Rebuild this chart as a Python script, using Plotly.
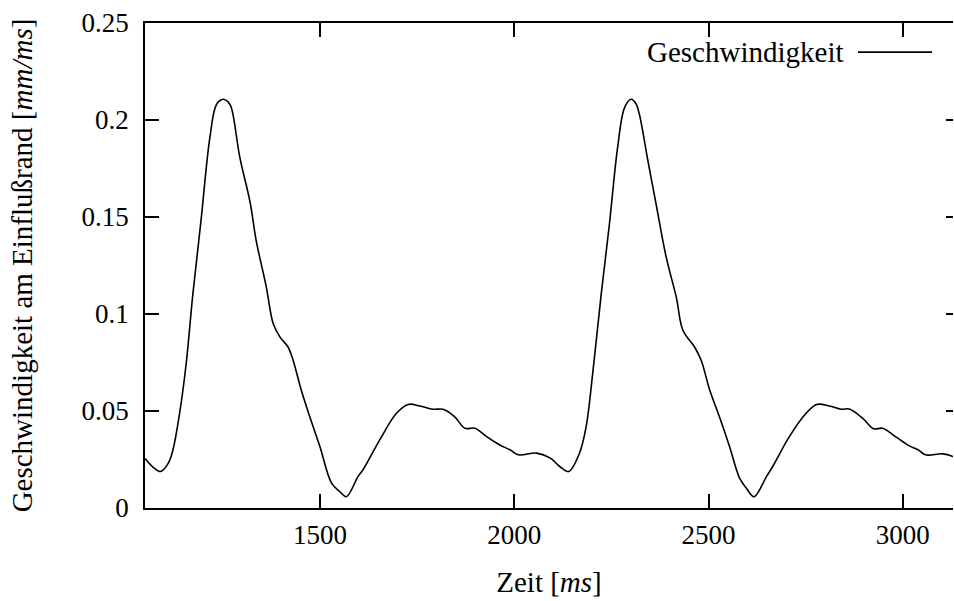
import plotly.graph_objects as go

# Zeit [ms]
zeit = [1050, 1071, 1090, 1110, 1122, 1139, 1156, 1173, 1194, 1217, 1234, 1251,
        1263, 1272, 1294, 1320, 1336, 1362, 1380, 1397, 1418, 1431, 1452, 1474, 1500,
        1530, 1551, 1568, 1598, 1611, 1654, 1697, 1727, 1757, 1791, 1817, 1847,
        1873, 1899, 1929, 1963, 1989, 2011, 2058, 2093, 2117, 2140, 2168, 2185,
        2202, 2224, 2245, 2266, 2284, 2301, 2313, 2322, 2344, 2365, 2391, 2417, 2434,
        2464, 2481, 2503, 2528, 2554, 2580, 2597, 2617, 2649, 2665, 2708, 2751,
        2778, 2811, 2841, 2862, 2897, 2925, 2948, 2983, 3017, 3039, 3058, 3103,
        3129]
# Geschwindigkeit am Einflussrand [mm/ms]
geschwindigkeit = [0.0255, 0.0210, 0.0188, 0.0231, 0.0300, 0.0488, 0.0745, 0.1100,
                   0.1480, 0.1910, 0.2080, 0.2107, 0.2095, 0.2064, 0.1807, 0.1580, 0.1380,
                   0.1140, 0.0950, 0.0882, 0.0830, 0.0762, 0.0608, 0.0470, 0.0317,
                   0.0128, 0.0085, 0.0058, 0.0162, 0.0197, 0.0351, 0.0488, 0.0534,
                   0.0526, 0.0509, 0.0509, 0.0470, 0.0411, 0.0411, 0.0368, 0.0325,
                   0.0300, 0.0274, 0.0283, 0.0257, 0.0214, 0.0188, 0.0283, 0.0419,
                   0.0694, 0.1105, 0.1464, 0.1858, 0.2064, 0.2107, 0.2085, 0.2030, 0.1790,
                   0.1567, 0.1293, 0.1087, 0.0916, 0.0830, 0.0762, 0.0608, 0.0470,
                   0.0317, 0.0154, 0.0103, 0.0058, 0.0162, 0.0214, 0.0368, 0.0488,
                   0.0534, 0.0526, 0.0509, 0.0510, 0.0462, 0.0408, 0.0411, 0.0365,
                   0.0320, 0.0300, 0.0274, 0.0279, 0.0265]

x_ticks = [1500, 2000, 2500, 3000]
y_ticks = [0, 0.05, 0.1, 0.15, 0.2, 0.25]
y_ticktext = ["0", "0.05", "0.1", "0.15", "0.2", "0.25"]
x_range = [1050, 3129]
y_range = [0, 0.25]
legend_label = "Geschwindigkeit"

FONT = "Liberation Serif"

fig = go.Figure()
fig.add_trace(go.Scatter(
    x=zeit, y=geschwindigkeit, mode="lines", name=legend_label,
    line=dict(color="black", width=1.6, shape="spline", smoothing=1.0),
    showlegend=False,
))
# empty helper trace so the mirrored right-hand tick axis gets drawn
fig.add_trace(go.Scatter(x=[], y=[], yaxis="y2", showlegend=False,
                         hoverinfo="skip"))

fig.update_layout(
    width=954, height=601, autosize=False,
    margin=dict(l=145, r=1, t=23, b=93, pad=0),
    paper_bgcolor="white", plot_bgcolor="white",
    font=dict(family=FONT, size=27, color="black"),
    xaxis=dict(
        range=x_range, tickvals=x_ticks, ticks="inside", ticklen=14,
        tickwidth=1.5, tickcolor="black", showline=True, linewidth=1.8,
        linecolor="black", mirror="ticks", showgrid=False, zeroline=False,
        tickfont=dict(family=FONT, size=27), ticklabelstandoff=2,
        title=dict(text="Zeit [<i>ms</i>]", font=dict(family=FONT, size=29),
                   standoff=22),
    ),
    yaxis=dict(
        range=y_range, tickvals=y_ticks, ticktext=y_ticktext, ticks="inside",
        ticklen=14, tickwidth=1.5, tickcolor="black", showline=True,
        linewidth=1.8, linecolor="black", mirror=False, showgrid=False,
        zeroline=False, tickfont=dict(family=FONT, size=27),
        ticklabelstandoff=9,
        title=dict(text="Geschwindigkeit am Einflußrand [<i>mm/ms</i>]",
                   font=dict(family=FONT, size=29), standoff=40),
    ),
    yaxis2=dict(
        overlaying="y", side="right", range=y_range, tickvals=y_ticks,
        ticks="inside", ticklen=7, tickwidth=1.5, tickcolor="black",
        showline=False, showticklabels=False, showgrid=False, zeroline=False,
    ),
)

# legend entry (text left, sample line right), as in the original
fig.add_annotation(
    text=legend_label, xref="paper", yref="paper", x=0.867, y=0.940,
    xanchor="right", yanchor="middle", showarrow=False,
    font=dict(family=FONT, size=29, color="black"),
)
fig.add_shape(type="line", xref="paper", yref="paper", x0=0.8824, x1=0.974,
              y0=0.940, y1=0.940, line=dict(color="black", width=1.6))

fig.write_html("out.html")
